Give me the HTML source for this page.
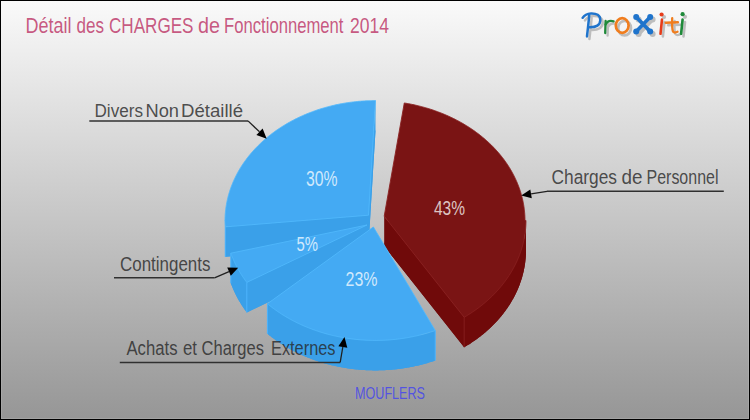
<!DOCTYPE html>
<html><head><meta charset="utf-8"><style>
html,body{margin:0;padding:0;width:750px;height:420px;overflow:hidden;background:#fff}
svg{display:block;font-family:"Liberation Sans",sans-serif}
</style></head><body>
<svg width="750" height="420" viewBox="0 0 750 420">
<defs>
<linearGradient id="bg" x1="0" y1="0" x2="0" y2="1">
<stop offset="0" stop-color="#fafafa"/><stop offset="1" stop-color="#969696"/>
</linearGradient>
<filter id="blur" x="-10%" y="-10%" width="120%" height="120%"><feGaussianBlur stdDeviation="0.6"/></filter>
</defs>
<rect x="0" y="0" width="750" height="420" fill="url(#bg)"/>
<rect x="1.5" y="1.5" width="747" height="417" fill="none" stroke="#fff" stroke-opacity="0.12" stroke-width="1"/>
<rect x="0.5" y="0.5" width="749" height="419" fill="none" stroke="#000" stroke-width="1"/>
<text x="25.50" y="32.80" font-size="21.60" textLength="46.00" lengthAdjust="spacingAndGlyphs" fill="#bb2f62" fill-opacity="0.8">Détail</text>
<text x="76.50" y="32.80" font-size="21.60" textLength="27.50" lengthAdjust="spacingAndGlyphs" fill="#bb2f62" fill-opacity="0.8">des</text>
<text x="109.00" y="32.80" font-size="21.60" textLength="84.50" lengthAdjust="spacingAndGlyphs" fill="#bb2f62" fill-opacity="0.8">CHARGES</text>
<text x="198.00" y="32.80" font-size="21.60" textLength="22.00" lengthAdjust="spacingAndGlyphs" fill="#bb2f62" fill-opacity="0.8">de</text>
<text x="224.00" y="32.80" font-size="21.60" textLength="119.50" lengthAdjust="spacingAndGlyphs" fill="#bb2f62" fill-opacity="0.8">Fonctionnement</text>
<text x="350.00" y="32.80" font-size="21.60" textLength="39.00" lengthAdjust="spacingAndGlyphs" fill="#bb2f62" fill-opacity="0.8">2014</text>
<g id="logo"><g opacity="0.6" transform="translate(2.4,2.6)" filter="url(#blur)"><g stroke="#9a9a9a" fill="#9a9a9a"><path d="M582.6,17.8 C584.2,15.3 586.8,13.6 591,13.4 C596.5,13.2 600.3,15.2 600.3,20 C600.3,25.2 596,27.4 589.6,27.3" fill="none" stroke-width="2.5" stroke-linecap="round"/><path d="M589.2,15.2 C588.7,22 587.7,30 587,36.4" fill="none" stroke-width="2.5" stroke-linecap="round"/></g><g stroke="#9a9a9a" fill="#9a9a9a"><path d="M605.6,21 L605.2,33.1" fill="none" stroke-width="2.3" stroke-linecap="round"/><path d="M605.6,24.5 C607,21.5 609,20 613.6,21.3" fill="none" stroke-width="2.3" stroke-linecap="round"/></g><g stroke="#9a9a9a" fill="#9a9a9a"><ellipse cx="622.2" cy="25.5" rx="6.4" ry="7.3" fill="none" stroke-width="2.7"/></g><g stroke="#9a9a9a" fill="#9a9a9a"><path d="M636.2,17 L650.2,31.5 M650.2,17 L636.2,31.5" fill="none" stroke-width="3.7"/><circle cx="636.2" cy="17" r="3.0" stroke="none"/><circle cx="650.2" cy="17" r="3.0" stroke="none"/><circle cx="636.2" cy="31.5" r="3.0" stroke="none"/><circle cx="650.2" cy="31.5" r="3.0" stroke="none"/></g><g stroke="#9a9a9a" fill="#9a9a9a"><circle cx="661.6" cy="14.5" r="2.1" stroke="none"/><path d="M662,19.5 L660.5,33.8" fill="none" stroke-width="2.6" stroke-linecap="round"/></g><g stroke="#9a9a9a" fill="#9a9a9a"><path d="M672.2,18.2 C672,24 671.8,29 673,31.5 C674,32.8 676,32.5 677.5,31.8" fill="none" stroke-width="2.3" stroke-linecap="round"/><path d="M665.8,22.7 L677.8,22.2" fill="none" stroke-width="2.6" stroke-linecap="round"/></g><g stroke="#9a9a9a" fill="#9a9a9a"><circle cx="682.6" cy="14.2" r="2.1" stroke="none"/><path d="M682.6,19.5 L681.1,33.8" fill="none" stroke-width="2.6" stroke-linecap="round"/></g></g><g><g stroke="#1f74cc" fill="#1f74cc"><path d="M582.6,17.8 C584.2,15.3 586.8,13.6 591,13.4 C596.5,13.2 600.3,15.2 600.3,20 C600.3,25.2 596,27.4 589.6,27.3" fill="none" stroke-width="2.5" stroke-linecap="round"/><path d="M589.2,15.2 C588.7,22 587.7,30 587,36.4" fill="none" stroke-width="2.5" stroke-linecap="round"/></g><g stroke="#1f8a3a" fill="#1f8a3a"><path d="M605.6,21 L605.2,33.1" fill="none" stroke-width="2.3" stroke-linecap="round"/><path d="M605.6,24.5 C607,21.5 609,20 613.6,21.3" fill="none" stroke-width="2.3" stroke-linecap="round"/></g><g stroke="#f07d1e" fill="#f07d1e"><ellipse cx="622.2" cy="25.5" rx="6.4" ry="7.3" fill="none" stroke-width="2.7"/></g><g stroke="#1f74cc" fill="#1f74cc"><path d="M636.2,17 L650.2,31.5 M650.2,17 L636.2,31.5" fill="none" stroke-width="3.7"/><circle cx="636.2" cy="17" r="3.0" stroke="none"/><circle cx="650.2" cy="17" r="3.0" stroke="none"/><circle cx="636.2" cy="31.5" r="3.0" stroke="none"/><circle cx="650.2" cy="31.5" r="3.0" stroke="none"/></g><g stroke="#e63c1a" fill="#e63c1a"><circle cx="661.6" cy="14.5" r="2.1" stroke="none"/><path d="M662,19.5 L660.5,33.8" fill="none" stroke-width="2.6" stroke-linecap="round"/></g><g stroke="#f07d1e" fill="#f07d1e"><path d="M672.2,18.2 C672,24 671.8,29 673,31.5 C674,32.8 676,32.5 677.5,31.8" fill="none" stroke-width="2.3" stroke-linecap="round"/><path d="M665.8,22.7 L677.8,22.2" fill="none" stroke-width="2.6" stroke-linecap="round"/></g><g stroke="#1f8a3a" fill="#1f8a3a"><circle cx="682.6" cy="14.2" r="2.1" stroke="none"/><path d="M682.6,19.5 L681.1,33.8" fill="none" stroke-width="2.6" stroke-linecap="round"/></g></g></g>
<g id="pie">
<polygon points="368.50,245.20 375.50,130.60 374.50,130.60 373.50,130.61 372.50,130.62 371.50,130.64 370.50,130.67 369.50,130.70 368.50,130.73 367.50,130.77 366.51,130.82 365.51,130.87 364.51,130.92 363.51,130.98 362.52,131.05 361.52,131.12 360.52,131.20 359.53,131.28 358.54,131.37 357.54,131.46 356.55,131.56 355.56,131.66 354.57,131.77 353.58,131.88 352.59,132.00 351.60,132.13 350.61,132.26 349.63,132.39 348.64,132.53 347.66,132.68 346.68,132.83 345.70,132.98 344.72,133.15 343.74,133.31 342.76,133.48 341.79,133.66 340.81,133.84 339.84,134.03 338.87,134.22 337.90,134.42 336.94,134.62 335.97,134.83 335.01,135.04 334.04,135.26 333.08,135.48 332.12,135.71 331.17,135.94 330.21,136.18 329.26,136.42 328.31,136.67 327.36,136.93 326.41,137.18 325.47,137.45 324.53,137.72 323.59,137.99 322.65,138.27 321.72,138.55 320.78,138.84 319.85,139.13 318.93,139.43 318.00,139.73 317.08,140.04 316.16,140.36 315.24,140.67 314.32,141.00 313.41,141.32 312.50,141.66 311.60,141.99 310.69,142.34 309.79,142.68 308.89,143.03 308.00,143.39 307.10,143.75 306.22,144.12 305.33,144.49 304.45,144.86 303.57,145.24 302.69,145.63 301.82,146.02 300.95,146.41 300.08,146.81 299.21,147.21 298.35,147.62 297.50,148.03 296.64,148.45 295.79,148.87 294.95,149.30 294.10,149.73 293.27,150.16 292.43,150.60 291.60,151.05 290.77,151.49 289.94,151.95 289.12,152.40 288.31,152.87 287.49,153.33 286.68,153.80 285.88,154.28 285.08,154.75 284.28,155.24 283.49,155.72 282.70,156.21 281.91,156.71 281.13,157.21 280.35,157.71 279.58,158.22 278.81,158.73 278.05,159.25 277.29,159.77 276.53,160.29 275.78,160.82 275.04,161.35 274.29,161.89 273.56,162.43 272.82,162.97 272.09,163.52 271.37,164.07 270.65,164.63 269.93,165.19 269.22,165.75 268.52,166.32 267.82,166.89 267.12,167.46 266.43,168.04 265.74,168.62 265.06,169.21 264.38,169.80 263.71,170.39 263.04,170.98 262.38,171.58 261.73,172.19 261.07,172.79 260.43,173.40 259.78,174.02 259.15,174.63 258.52,175.25 257.89,175.88 257.27,176.50 256.65,177.13 256.04,177.77 255.44,178.40 254.84,179.04 254.24,179.69 253.65,180.33 253.07,180.98 252.49,181.63 251.91,182.29 251.35,182.95 250.78,183.61 250.23,184.27 249.68,184.94 249.13,185.61 248.59,186.28 248.05,186.96 247.53,187.64 247.00,188.32 246.48,189.01 245.97,189.69 245.47,190.38 244.97,191.08 244.47,191.77 243.98,192.47 243.50,193.17 243.02,193.87 242.55,194.58 242.08,195.28 241.62,196.00 241.17,196.71 240.72,197.42 240.28,198.14 239.84,198.86 239.41,199.58 238.99,200.31 238.57,201.03 238.16,201.76 237.75,202.49 237.35,203.23 236.96,203.96 236.57,204.70 236.19,205.44 235.82,206.18 235.45,206.93 235.08,207.67 234.73,208.42 234.38,209.17 234.03,209.92 233.69,210.67 233.36,211.43 233.04,212.18 232.72,212.94 232.40,213.70 232.10,214.46 231.80,215.22 231.50,215.99 231.22,216.76 230.93,217.52 230.66,218.29 230.39,219.06 230.13,219.84 229.87,220.61 229.62,221.38 229.38,222.16 229.15,222.94 228.92,223.72 228.69,224.50 228.48,225.28 228.26,226.06 228.06,226.84 227.86,227.63 227.67,228.41 227.49,229.20 227.31,229.98 227.14,230.77 226.97,231.56 226.82,232.35 226.66,233.14 226.52,233.93 226.38,234.73 226.25,235.52 226.12,236.31 226.01,237.11 225.89,237.90 225.79,238.70 225.69,239.49 225.60,240.29 225.51,241.09 225.43,241.88 225.36,242.68 225.29,243.48 225.23,244.28 225.18,245.08 225.14,245.88 225.10,246.68 225.06,247.48 225.04,248.28 225.02,249.08 225.01,249.88 225.00,250.68 225.00,250.48 225.01,251.28 225.02,252.08 225.04,252.88 225.07,253.68 225.10,254.48 225.14,255.27 225.19,256.07 225.25,256.87" fill="rgb(58,160,233)"/>
<polygon points="367.00,255.00 230.83,283.19 231.11,283.96 231.39,284.72 231.69,285.49 231.98,286.25 232.29,287.01 232.60,287.77 232.92,288.53 233.24,289.29 233.57,290.04 233.90,290.80 234.25,291.55 234.59,292.30 234.95,293.05 235.31,293.79 235.68,294.54 236.05,295.28 236.43,296.02 236.81,296.76 237.20,297.50 237.60,298.23 238.01,298.96 238.42,299.69 238.83,300.42 239.25,301.14 239.68,301.87 240.11,302.59 240.55,303.31 241.00,304.02 241.45,304.74 241.91,305.45 242.37,306.16 242.84,306.86 243.32,307.57 243.80,308.27 244.29,308.97 244.78,309.66 245.28,310.36 245.78,311.05 246.29,311.74 246.81,312.42" fill="rgb(58,160,233)"/>
<polygon points="373.40,257.00 267.42,333.79 268.12,334.36 268.82,334.93 269.53,335.49 270.24,336.06 270.96,336.61 271.68,337.17 272.41,337.72 273.14,338.26 273.87,338.81 274.61,339.34 275.36,339.88 276.11,340.41 276.86,340.93 277.62,341.46 278.38,341.98 279.15,342.49 279.92,343.00 280.69,343.51 281.47,344.01 282.25,344.51 283.04,345.00 283.83,345.49 284.63,345.97 285.42,346.45 286.23,346.93 287.03,347.40 287.85,347.87 288.66,348.34 289.48,348.79 290.30,349.25 291.13,349.70 291.96,350.15 292.79,350.59 293.63,351.03 294.47,351.46 295.31,351.89 296.16,352.31 297.01,352.73 297.87,353.15 298.73,353.56 299.59,353.96 300.45,354.36 301.32,354.76 302.19,355.15 303.07,355.54 303.95,355.92 304.83,356.30 305.71,356.67 306.60,357.04 307.49,357.41 308.38,357.76 309.28,358.12 310.18,358.47 311.08,358.81 311.99,359.15 312.90,359.49 313.81,359.82 314.72,360.14 315.64,360.47 316.56,360.78 317.48,361.09 318.40,361.40 319.33,361.70 320.26,362.00 321.19,362.29 322.12,362.57 323.06,362.85 324.00,363.13 324.94,363.40 325.88,363.67 326.82,363.93 327.77,364.19 328.72,364.44 329.67,364.68 330.63,364.92 331.58,365.16 332.54,365.39 333.50,365.62 334.46,365.84 335.42,366.05 336.39,366.26 337.35,366.47 338.32,366.67 339.29,366.86 340.26,367.05 341.24,367.24 342.21,367.42 343.19,367.59 344.16,367.76 345.14,367.93 346.12,368.08 347.10,368.24 348.09,368.39 349.07,368.53 350.06,368.67 351.04,368.80 352.03,368.93 353.02,369.05 354.01,369.17 355.00,369.28 355.99,369.38 356.98,369.48 357.97,369.58 358.97,369.67 359.96,369.76 360.96,369.84 361.95,369.91 362.95,369.98 363.94,370.04 364.94,370.10 365.94,370.16 366.94,370.21 367.94,370.25 368.94,370.29 369.93,370.32 370.93,370.34 371.93,370.37 372.93,370.38 373.93,370.39 374.93,370.40 375.93,370.40 376.93,370.39 377.93,370.38 378.93,370.37 379.93,370.35 380.93,370.32 381.93,370.29 382.93,370.25 383.93,370.21 384.93,370.16 385.93,370.11 386.92,370.05 387.92,369.99 388.92,369.92 389.91,369.85 390.91,369.77 391.90,369.68 392.89,369.59 393.89,369.50 394.88,369.40 395.87,369.29 396.86,369.18 397.85,369.06 398.84,368.94 399.83,368.82 400.81,368.68 401.80,368.55 402.78,368.41 403.76,368.26 404.75,368.10 405.73,367.95 406.71,367.78 407.68,367.61 408.66,367.44 409.63,367.26 410.61,367.08 411.58,366.89 412.55,366.69 413.52,366.50 414.48,366.29 415.45,366.08 416.41,365.87 417.37,365.65 418.33,365.42 419.29,365.19 420.25,364.96 421.20,364.71 422.15,364.47 423.10,364.22 424.05,363.96 424.99,363.70 425.94,363.44 426.88,363.17 427.82,362.89 428.75,362.61 429.69,362.32 430.62,362.03 431.55,361.74 432.48,361.44 433.40,361.13 434.32,360.82 435.24,360.51" fill="rgb(58,160,233)"/>
<polygon points="384.20,246.20 464.17,347.28 464.98,346.81 465.78,346.33 466.58,345.85 467.37,345.36 468.16,344.87 468.95,344.38 469.73,343.88 470.51,343.38 471.28,342.87 472.05,342.36 472.82,341.84 473.58,341.32 474.33,340.80 475.09,340.27 475.83,339.74 476.58,339.21 477.32,338.67 478.05,338.12 478.78,337.58 479.50,337.02 480.22,336.47 480.94,335.91 481.65,335.35 482.36,334.78 483.06,334.21 483.76,333.64 484.45,333.06 485.14,332.48 485.82,331.90 486.50,331.31 487.17,330.72 487.84,330.12 488.50,329.52 489.16,328.92 489.81,328.31 490.46,327.70 491.10,327.09 491.74,326.48 492.37,325.86 493.00,325.23 493.62,324.61 494.24,323.98 494.85,323.34 495.46,322.71 496.06,322.07 496.66,321.43 497.25,320.78 497.83,320.13 498.41,319.48 498.99,318.83 499.55,318.17 500.12,317.51 500.68,316.84 501.23,316.18 501.78,315.51 502.32,314.83 502.85,314.16 503.38,313.48 503.91,312.80 504.43,312.11 504.94,311.43 505.45,310.74 505.95,310.05 506.44,309.35 506.93,308.65 507.42,307.95 507.90,307.25 508.37,306.55 508.84,305.84 509.30,305.13 509.75,304.42 510.20,303.70 510.64,302.99 511.08,302.27 511.51,301.54 511.94,300.82 512.36,300.09 512.77,299.36 513.18,298.63 513.58,297.90 513.97,297.17 514.36,296.43 514.74,295.69 515.12,294.95 515.49,294.21 515.85,293.46 516.21,292.71 516.56,291.96 516.91,291.21 517.25,290.46 517.58,289.71 517.91,288.95 518.23,288.19 518.54,287.43 518.85,286.67 519.15,285.91 519.45,285.14 519.73,284.38 520.02,283.61 520.29,282.84 520.56,282.07 520.83,281.30 521.08,280.53 521.33,279.75 521.58,278.98 521.81,278.20 522.04,277.42 522.27,276.64 522.49,275.86 522.70,275.08 522.90,274.30 523.10,273.51 523.29,272.73 523.48,271.94 523.66,271.15 523.83,270.37 524.00,269.58 524.16,268.79 524.31,268.00 524.46,267.21 524.60,266.41 524.73,265.62 524.85,264.83 524.97,264.03 525.09,263.24 525.19,262.44 525.29,261.65 525.39,260.85 525.47,260.05 525.55,259.26 525.63,258.46 525.70,257.66 525.76,256.86 525.81,256.06 525.86,255.26 525.90,254.46 525.93,253.66 525.96,252.86 525.98,252.06 525.99,251.26 526.00,250.46 525.00,250.66 524.99,249.86 524.98,249.06 524.96,248.26 524.94,247.46 524.90,246.67 524.86,245.87 524.82,245.07 524.76,244.27 524.71,243.47 524.64,242.67 524.57,241.87 524.49,241.08 524.40,240.28 524.31,239.48 524.21,238.69 524.11,237.89 523.99,237.10 523.87,236.30 523.75,235.51 523.62,234.71 523.48,233.92 523.33,233.13 523.18,232.34 523.02,231.55 522.86,230.76 522.69,229.97 522.51,229.19 522.32,228.40 522.13,227.61 521.94,226.83 521.73,226.05 521.52,225.26 521.30,224.48 521.08,223.70 520.85,222.93 520.61,222.15 520.37,221.37 520.12,220.60 519.87,219.82 519.60,219.05 519.34,218.28 519.06,217.51 518.78,216.74 518.49,215.98 518.20,215.21 517.90,214.45 517.59,213.69 517.28,212.93 516.96,212.17 516.63,211.41 516.30,210.66 515.96,209.91 515.62,209.16 515.27,208.41 514.91,207.66 514.55,206.91 514.18,206.17 513.80,205.43 513.42,204.69 513.03,203.95 512.64,203.22 512.24,202.48 511.83,201.75 511.42,201.02 511.00,200.30 510.58,199.57 510.15,198.85 509.71,198.13 509.27,197.41 508.82,196.70 508.37,195.98 507.91,195.27 507.44,194.57 506.97,193.86 506.49,193.16 506.01,192.46 505.52,191.76 505.03,191.06 504.53,190.37 504.02,189.68 503.51,189.00 502.99,188.31 502.47,187.63 501.94,186.95 501.40,186.27 500.86,185.60 500.32,184.93 499.76,184.26 499.21,183.60 498.65,182.94 498.08,182.28 497.50,181.62 496.92,180.97 496.34,180.32 495.75,179.68 495.16,179.03 494.56,178.39 493.95,177.76 493.34,177.12 492.72,176.49 492.10,175.87 491.47,175.24 490.84,174.62 490.21,174.01 489.56,173.39 488.92,172.78 488.26,172.18 487.61,171.57 486.95,170.97 486.28,170.38 485.61,169.79 484.93,169.20 484.25,168.61 483.56,168.03 482.87,167.45 482.17,166.88 481.47,166.31 480.77,165.74 480.06,165.18 479.34,164.62 478.62,164.06 477.90,163.51 477.17,162.96 476.43,162.42 475.70,161.88 474.95,161.35 474.21,160.81 473.46,160.29 472.70,159.76 471.94,159.24 471.18,158.73 470.41,158.21 469.63,157.71 468.86,157.20 468.08,156.70 467.29,156.21 466.50,155.72 465.71,155.23 464.91,154.75 464.11,154.27 463.30,153.79 462.49,153.32 461.68,152.86 460.86,152.40 460.04,151.94 459.22,151.49 458.39,151.04 457.56,150.60 456.72,150.16 455.88,149.72 455.04,149.29 454.19,148.87 453.34,148.44 452.49,148.03 451.63,147.61 450.77,147.21 449.91,146.80 449.04,146.41 448.17,146.01 447.30,145.62 446.42,145.24 445.54,144.86 444.66,144.48 443.77,144.11 442.88,143.75 441.99,143.38 441.09,143.03 440.20,142.68 439.30,142.33 438.39,141.99 437.48,141.65 436.57,141.32 435.66,140.99 434.75,140.67 433.83,140.35 432.91,140.04 431.99,139.73 431.06,139.43 430.13,139.13 429.20,138.83 428.27,138.55 427.33,138.26 426.40,137.98 425.46,137.71 424.52,137.44 423.57,137.18 422.62,136.92 421.68,136.67 420.73,136.42 419.77,136.18 418.82,135.94 417.86,135.71 416.90,135.48 415.94,135.25 414.98,135.04 414.02,134.82 413.05,134.62 412.08,134.41 411.11,134.22 410.14,134.03 409.17,133.84 408.20,133.66 407.22,133.48 406.24,133.31 405.27,133.14 404.29,132.98" fill="rgb(112,10,10)"/>
<polygon points="384.20,246.20 384.20,216.20 464.17,317.28 464.17,347.28" fill="rgb(112,10,10)"/>
<polygon points="373.40,257.00 373.40,227.00 267.42,303.79 267.42,333.79" fill="rgb(58,160,233)"/>
<polygon points="367.00,255.00 367.00,225.00 230.83,253.19 230.83,283.19" fill="rgb(58,160,233)"/>
<polygon points="368.50,245.20 368.50,215.20 375.50,100.60 375.50,130.60" fill="rgb(58,160,233)"/>
<polygon points="368.50,245.20 368.50,215.20 225.25,226.87 225.25,256.87" fill="rgb(58,160,233)"/>
<polygon points="367.00,255.00 367.00,225.00 246.81,282.42 246.81,312.42" fill="rgb(58,160,233)"/>
<polygon points="225.00,250.48 225.01,251.28 225.02,252.08 225.04,252.88 225.07,253.68 225.10,254.48 225.14,255.27 225.19,256.07 225.25,256.87 225.25,226.87 225.19,226.07 225.14,225.27 225.10,224.48 225.07,223.68 225.04,222.88 225.02,222.08 225.01,221.28 225.00,220.48" fill="rgb(58,160,233)"/>
<polygon points="230.83,283.19 231.11,283.96 231.39,284.72 231.69,285.49 231.98,286.25 232.29,287.01 232.60,287.77 232.92,288.53 233.24,289.29 233.57,290.04 233.90,290.80 234.25,291.55 234.59,292.30 234.95,293.05 235.31,293.79 235.68,294.54 236.05,295.28 236.43,296.02 236.81,296.76 237.20,297.50 237.60,298.23 238.01,298.96 238.42,299.69 238.83,300.42 239.25,301.14 239.68,301.87 240.11,302.59 240.55,303.31 241.00,304.02 241.45,304.74 241.91,305.45 242.37,306.16 242.84,306.86 243.32,307.57 243.80,308.27 244.29,308.97 244.78,309.66 245.28,310.36 245.78,311.05 246.29,311.74 246.81,312.42 246.81,282.42 246.29,281.74 245.78,281.05 245.28,280.36 244.78,279.66 244.29,278.97 243.80,278.27 243.32,277.57 242.84,276.86 242.37,276.16 241.91,275.45 241.45,274.74 241.00,274.02 240.55,273.31 240.11,272.59 239.68,271.87 239.25,271.14 238.83,270.42 238.42,269.69 238.01,268.96 237.60,268.23 237.20,267.50 236.81,266.76 236.43,266.02 236.05,265.28 235.68,264.54 235.31,263.79 234.95,263.05 234.59,262.30 234.25,261.55 233.90,260.80 233.57,260.04 233.24,259.29 232.92,258.53 232.60,257.77 232.29,257.01 231.98,256.25 231.69,255.49 231.39,254.72 231.11,253.96 230.83,253.19" fill="rgb(58,160,233)"/>
<polygon points="267.42,333.79 268.12,334.36 268.82,334.93 269.53,335.49 270.24,336.06 270.96,336.61 271.68,337.17 272.41,337.72 273.14,338.26 273.87,338.81 274.61,339.34 275.36,339.88 276.11,340.41 276.86,340.93 277.62,341.46 278.38,341.98 279.15,342.49 279.92,343.00 280.69,343.51 281.47,344.01 282.25,344.51 283.04,345.00 283.83,345.49 284.63,345.97 285.42,346.45 286.23,346.93 287.03,347.40 287.85,347.87 288.66,348.34 289.48,348.79 290.30,349.25 291.13,349.70 291.96,350.15 292.79,350.59 293.63,351.03 294.47,351.46 295.31,351.89 296.16,352.31 297.01,352.73 297.87,353.15 298.73,353.56 299.59,353.96 300.45,354.36 301.32,354.76 302.19,355.15 303.07,355.54 303.95,355.92 304.83,356.30 305.71,356.67 306.60,357.04 307.49,357.41 308.38,357.76 309.28,358.12 310.18,358.47 311.08,358.81 311.99,359.15 312.90,359.49 313.81,359.82 314.72,360.14 315.64,360.47 316.56,360.78 317.48,361.09 318.40,361.40 319.33,361.70 320.26,362.00 321.19,362.29 322.12,362.57 323.06,362.85 324.00,363.13 324.94,363.40 325.88,363.67 326.82,363.93 327.77,364.19 328.72,364.44 329.67,364.68 330.63,364.92 331.58,365.16 332.54,365.39 333.50,365.62 334.46,365.84 335.42,366.05 336.39,366.26 337.35,366.47 338.32,366.67 339.29,366.86 340.26,367.05 341.24,367.24 342.21,367.42 343.19,367.59 344.16,367.76 345.14,367.93 346.12,368.08 347.10,368.24 348.09,368.39 349.07,368.53 350.06,368.67 351.04,368.80 352.03,368.93 353.02,369.05 354.01,369.17 355.00,369.28 355.99,369.38 356.98,369.48 357.97,369.58 358.97,369.67 359.96,369.76 360.96,369.84 361.95,369.91 362.95,369.98 363.94,370.04 364.94,370.10 365.94,370.16 366.94,370.21 367.94,370.25 368.94,370.29 369.93,370.32 370.93,370.34 371.93,370.37 372.93,370.38 373.93,370.39 374.93,370.40 375.93,370.40 376.93,370.39 377.93,370.38 378.93,370.37 379.93,370.35 380.93,370.32 381.93,370.29 382.93,370.25 383.93,370.21 384.93,370.16 385.93,370.11 386.92,370.05 387.92,369.99 388.92,369.92 389.91,369.85 390.91,369.77 391.90,369.68 392.89,369.59 393.89,369.50 394.88,369.40 395.87,369.29 396.86,369.18 397.85,369.06 398.84,368.94 399.83,368.82 400.81,368.68 401.80,368.55 402.78,368.41 403.76,368.26 404.75,368.10 405.73,367.95 406.71,367.78 407.68,367.61 408.66,367.44 409.63,367.26 410.61,367.08 411.58,366.89 412.55,366.69 413.52,366.50 414.48,366.29 415.45,366.08 416.41,365.87 417.37,365.65 418.33,365.42 419.29,365.19 420.25,364.96 421.20,364.71 422.15,364.47 423.10,364.22 424.05,363.96 424.99,363.70 425.94,363.44 426.88,363.17 427.82,362.89 428.75,362.61 429.69,362.32 430.62,362.03 431.55,361.74 432.48,361.44 433.40,361.13 434.32,360.82 435.24,360.51 435.24,330.51 434.32,330.82 433.40,331.13 432.48,331.44 431.55,331.74 430.62,332.03 429.69,332.32 428.75,332.61 427.82,332.89 426.88,333.17 425.94,333.44 424.99,333.70 424.05,333.96 423.10,334.22 422.15,334.47 421.20,334.71 420.25,334.96 419.29,335.19 418.33,335.42 417.37,335.65 416.41,335.87 415.45,336.08 414.48,336.29 413.52,336.50 412.55,336.69 411.58,336.89 410.61,337.08 409.63,337.26 408.66,337.44 407.68,337.61 406.71,337.78 405.73,337.95 404.75,338.10 403.76,338.26 402.78,338.41 401.80,338.55 400.81,338.68 399.83,338.82 398.84,338.94 397.85,339.06 396.86,339.18 395.87,339.29 394.88,339.40 393.89,339.50 392.89,339.59 391.90,339.68 390.91,339.77 389.91,339.85 388.92,339.92 387.92,339.99 386.92,340.05 385.93,340.11 384.93,340.16 383.93,340.21 382.93,340.25 381.93,340.29 380.93,340.32 379.93,340.35 378.93,340.37 377.93,340.38 376.93,340.39 375.93,340.40 374.93,340.40 373.93,340.39 372.93,340.38 371.93,340.37 370.93,340.34 369.93,340.32 368.94,340.29 367.94,340.25 366.94,340.21 365.94,340.16 364.94,340.10 363.94,340.04 362.95,339.98 361.95,339.91 360.96,339.84 359.96,339.76 358.97,339.67 357.97,339.58 356.98,339.48 355.99,339.38 355.00,339.28 354.01,339.17 353.02,339.05 352.03,338.93 351.04,338.80 350.06,338.67 349.07,338.53 348.09,338.39 347.10,338.24 346.12,338.08 345.14,337.93 344.16,337.76 343.19,337.59 342.21,337.42 341.24,337.24 340.26,337.05 339.29,336.86 338.32,336.67 337.35,336.47 336.39,336.26 335.42,336.05 334.46,335.84 333.50,335.62 332.54,335.39 331.58,335.16 330.63,334.92 329.67,334.68 328.72,334.44 327.77,334.19 326.82,333.93 325.88,333.67 324.94,333.40 324.00,333.13 323.06,332.85 322.12,332.57 321.19,332.29 320.26,332.00 319.33,331.70 318.40,331.40 317.48,331.09 316.56,330.78 315.64,330.47 314.72,330.14 313.81,329.82 312.90,329.49 311.99,329.15 311.08,328.81 310.18,328.47 309.28,328.12 308.38,327.76 307.49,327.41 306.60,327.04 305.71,326.67 304.83,326.30 303.95,325.92 303.07,325.54 302.19,325.15 301.32,324.76 300.45,324.36 299.59,323.96 298.73,323.56 297.87,323.15 297.01,322.73 296.16,322.31 295.31,321.89 294.47,321.46 293.63,321.03 292.79,320.59 291.96,320.15 291.13,319.70 290.30,319.25 289.48,318.79 288.66,318.34 287.85,317.87 287.03,317.40 286.23,316.93 285.42,316.45 284.63,315.97 283.83,315.49 283.04,315.00 282.25,314.51 281.47,314.01 280.69,313.51 279.92,313.00 279.15,312.49 278.38,311.98 277.62,311.46 276.86,310.93 276.11,310.41 275.36,309.88 274.61,309.34 273.87,308.81 273.14,308.26 272.41,307.72 271.68,307.17 270.96,306.61 270.24,306.06 269.53,305.49 268.82,304.93 268.12,304.36 267.42,303.79" fill="rgb(58,160,233)"/>
<polygon points="464.17,347.28 464.98,346.81 465.78,346.33 466.58,345.85 467.37,345.36 468.16,344.87 468.95,344.38 469.73,343.88 470.51,343.38 471.28,342.87 472.05,342.36 472.82,341.84 473.58,341.32 474.33,340.80 475.09,340.27 475.83,339.74 476.58,339.21 477.32,338.67 478.05,338.12 478.78,337.58 479.50,337.02 480.22,336.47 480.94,335.91 481.65,335.35 482.36,334.78 483.06,334.21 483.76,333.64 484.45,333.06 485.14,332.48 485.82,331.90 486.50,331.31 487.17,330.72 487.84,330.12 488.50,329.52 489.16,328.92 489.81,328.31 490.46,327.70 491.10,327.09 491.74,326.48 492.37,325.86 493.00,325.23 493.62,324.61 494.24,323.98 494.85,323.34 495.46,322.71 496.06,322.07 496.66,321.43 497.25,320.78 497.83,320.13 498.41,319.48 498.99,318.83 499.55,318.17 500.12,317.51 500.68,316.84 501.23,316.18 501.78,315.51 502.32,314.83 502.85,314.16 503.38,313.48 503.91,312.80 504.43,312.11 504.94,311.43 505.45,310.74 505.95,310.05 506.44,309.35 506.93,308.65 507.42,307.95 507.90,307.25 508.37,306.55 508.84,305.84 509.30,305.13 509.75,304.42 510.20,303.70 510.64,302.99 511.08,302.27 511.51,301.54 511.94,300.82 512.36,300.09 512.77,299.36 513.18,298.63 513.58,297.90 513.97,297.17 514.36,296.43 514.74,295.69 515.12,294.95 515.49,294.21 515.85,293.46 516.21,292.71 516.56,291.96 516.91,291.21 517.25,290.46 517.58,289.71 517.91,288.95 518.23,288.19 518.54,287.43 518.85,286.67 519.15,285.91 519.45,285.14 519.73,284.38 520.02,283.61 520.29,282.84 520.56,282.07 520.83,281.30 521.08,280.53 521.33,279.75 521.58,278.98 521.81,278.20 522.04,277.42 522.27,276.64 522.49,275.86 522.70,275.08 522.90,274.30 523.10,273.51 523.29,272.73 523.48,271.94 523.66,271.15 523.83,270.37 524.00,269.58 524.16,268.79 524.31,268.00 524.46,267.21 524.60,266.41 524.73,265.62 524.85,264.83 524.97,264.03 525.09,263.24 525.19,262.44 525.29,261.65 525.39,260.85 525.47,260.05 525.55,259.26 525.63,258.46 525.70,257.66 525.76,256.86 525.81,256.06 525.86,255.26 525.90,254.46 525.93,253.66 525.96,252.86 525.98,252.06 525.99,251.26 526.00,250.46 526.00,220.46 525.99,221.26 525.98,222.06 525.96,222.86 525.93,223.66 525.90,224.46 525.86,225.26 525.81,226.06 525.76,226.86 525.70,227.66 525.63,228.46 525.55,229.26 525.47,230.05 525.39,230.85 525.29,231.65 525.19,232.44 525.09,233.24 524.97,234.03 524.85,234.83 524.73,235.62 524.60,236.41 524.46,237.21 524.31,238.00 524.16,238.79 524.00,239.58 523.83,240.37 523.66,241.15 523.48,241.94 523.29,242.73 523.10,243.51 522.90,244.30 522.70,245.08 522.49,245.86 522.27,246.64 522.04,247.42 521.81,248.20 521.58,248.98 521.33,249.75 521.08,250.53 520.83,251.30 520.56,252.07 520.29,252.84 520.02,253.61 519.73,254.38 519.45,255.14 519.15,255.91 518.85,256.67 518.54,257.43 518.23,258.19 517.91,258.95 517.58,259.71 517.25,260.46 516.91,261.21 516.56,261.96 516.21,262.71 515.85,263.46 515.49,264.21 515.12,264.95 514.74,265.69 514.36,266.43 513.97,267.17 513.58,267.90 513.18,268.63 512.77,269.36 512.36,270.09 511.94,270.82 511.51,271.54 511.08,272.27 510.64,272.99 510.20,273.70 509.75,274.42 509.30,275.13 508.84,275.84 508.37,276.55 507.90,277.25 507.42,277.95 506.93,278.65 506.44,279.35 505.95,280.05 505.45,280.74 504.94,281.43 504.43,282.11 503.91,282.80 503.38,283.48 502.85,284.16 502.32,284.83 501.78,285.51 501.23,286.18 500.68,286.84 500.12,287.51 499.55,288.17 498.99,288.83 498.41,289.48 497.83,290.13 497.25,290.78 496.66,291.43 496.06,292.07 495.46,292.71 494.85,293.34 494.24,293.98 493.62,294.61 493.00,295.23 492.37,295.86 491.74,296.48 491.10,297.09 490.46,297.70 489.81,298.31 489.16,298.92 488.50,299.52 487.84,300.12 487.17,300.72 486.50,301.31 485.82,301.90 485.14,302.48 484.45,303.06 483.76,303.64 483.06,304.21 482.36,304.78 481.65,305.35 480.94,305.91 480.22,306.47 479.50,307.02 478.78,307.58 478.05,308.12 477.32,308.67 476.58,309.21 475.83,309.74 475.09,310.27 474.33,310.80 473.58,311.32 472.82,311.84 472.05,312.36 471.28,312.87 470.51,313.38 469.73,313.88 468.95,314.38 468.16,314.87 467.37,315.36 466.58,315.85 465.78,316.33 464.98,316.81 464.17,317.28" fill="rgb(112,10,10)"/>
<line x1="225.25" y1="256.87" x2="225.25" y2="226.87" stroke="rgb(78,180,253)" stroke-width="1.0"/>
<line x1="230.83" y1="283.19" x2="230.83" y2="253.19" stroke="rgb(78,180,253)" stroke-width="1.0"/>
<line x1="246.81" y1="312.42" x2="246.81" y2="282.42" stroke="rgb(78,180,253)" stroke-width="1.0"/>
<line x1="267.42" y1="333.79" x2="267.42" y2="303.79" stroke="rgb(78,180,253)" stroke-width="1.0"/>
<line x1="435.24" y1="360.51" x2="435.24" y2="330.51" stroke="rgb(78,180,253)" stroke-width="1.0"/>
<line x1="464.17" y1="347.28" x2="464.17" y2="317.28" stroke="rgb(132,30,30)" stroke-width="1.0"/>
<polygon points="368.50,215.20 375.50,100.60 374.50,100.60 373.50,100.61 372.50,100.62 371.50,100.64 370.50,100.67 369.50,100.70 368.50,100.73 367.50,100.77 366.51,100.82 365.51,100.87 364.51,100.92 363.51,100.98 362.52,101.05 361.52,101.12 360.52,101.20 359.53,101.28 358.54,101.37 357.54,101.46 356.55,101.56 355.56,101.66 354.57,101.77 353.58,101.88 352.59,102.00 351.60,102.13 350.61,102.26 349.63,102.39 348.64,102.53 347.66,102.68 346.68,102.83 345.70,102.98 344.72,103.15 343.74,103.31 342.76,103.48 341.79,103.66 340.81,103.84 339.84,104.03 338.87,104.22 337.90,104.42 336.94,104.62 335.97,104.83 335.01,105.04 334.04,105.26 333.08,105.48 332.12,105.71 331.17,105.94 330.21,106.18 329.26,106.42 328.31,106.67 327.36,106.93 326.41,107.18 325.47,107.45 324.53,107.72 323.59,107.99 322.65,108.27 321.72,108.55 320.78,108.84 319.85,109.13 318.93,109.43 318.00,109.73 317.08,110.04 316.16,110.36 315.24,110.67 314.32,111.00 313.41,111.32 312.50,111.66 311.60,111.99 310.69,112.34 309.79,112.68 308.89,113.03 308.00,113.39 307.10,113.75 306.22,114.12 305.33,114.49 304.45,114.86 303.57,115.24 302.69,115.63 301.82,116.02 300.95,116.41 300.08,116.81 299.21,117.21 298.35,117.62 297.50,118.03 296.64,118.45 295.79,118.87 294.95,119.30 294.10,119.73 293.27,120.16 292.43,120.60 291.60,121.05 290.77,121.49 289.94,121.95 289.12,122.40 288.31,122.87 287.49,123.33 286.68,123.80 285.88,124.28 285.08,124.75 284.28,125.24 283.49,125.72 282.70,126.21 281.91,126.71 281.13,127.21 280.35,127.71 279.58,128.22 278.81,128.73 278.05,129.25 277.29,129.77 276.53,130.29 275.78,130.82 275.04,131.35 274.29,131.89 273.56,132.43 272.82,132.97 272.09,133.52 271.37,134.07 270.65,134.63 269.93,135.19 269.22,135.75 268.52,136.32 267.82,136.89 267.12,137.46 266.43,138.04 265.74,138.62 265.06,139.21 264.38,139.80 263.71,140.39 263.04,140.98 262.38,141.58 261.73,142.19 261.07,142.79 260.43,143.40 259.78,144.02 259.15,144.63 258.52,145.25 257.89,145.88 257.27,146.50 256.65,147.13 256.04,147.77 255.44,148.40 254.84,149.04 254.24,149.69 253.65,150.33 253.07,150.98 252.49,151.63 251.91,152.29 251.35,152.95 250.78,153.61 250.23,154.27 249.68,154.94 249.13,155.61 248.59,156.28 248.05,156.96 247.53,157.64 247.00,158.32 246.48,159.01 245.97,159.69 245.47,160.38 244.97,161.08 244.47,161.77 243.98,162.47 243.50,163.17 243.02,163.87 242.55,164.58 242.08,165.28 241.62,166.00 241.17,166.71 240.72,167.42 240.28,168.14 239.84,168.86 239.41,169.58 238.99,170.31 238.57,171.03 238.16,171.76 237.75,172.49 237.35,173.23 236.96,173.96 236.57,174.70 236.19,175.44 235.82,176.18 235.45,176.93 235.08,177.67 234.73,178.42 234.38,179.17 234.03,179.92 233.69,180.67 233.36,181.43 233.04,182.18 232.72,182.94 232.40,183.70 232.10,184.46 231.80,185.22 231.50,185.99 231.22,186.76 230.93,187.52 230.66,188.29 230.39,189.06 230.13,189.84 229.87,190.61 229.62,191.38 229.38,192.16 229.15,192.94 228.92,193.72 228.69,194.50 228.48,195.28 228.26,196.06 228.06,196.84 227.86,197.63 227.67,198.41 227.49,199.20 227.31,199.98 227.14,200.77 226.97,201.56 226.82,202.35 226.66,203.14 226.52,203.93 226.38,204.73 226.25,205.52 226.12,206.31 226.01,207.11 225.89,207.90 225.79,208.70 225.69,209.49 225.60,210.29 225.51,211.09 225.43,211.88 225.36,212.68 225.29,213.48 225.23,214.28 225.18,215.08 225.14,215.88 225.10,216.68 225.06,217.48 225.04,218.28 225.02,219.08 225.01,219.88 225.00,220.68 225.00,220.48 225.01,221.28 225.02,222.08 225.04,222.88 225.07,223.68 225.10,224.48 225.14,225.27 225.19,226.07 225.25,226.87" fill="rgb(68,170,243)" stroke="rgb(80,184,252)" stroke-width="0.9" stroke-linejoin="round"/>
<polygon points="367.00,225.00 230.83,253.19 231.11,253.96 231.39,254.72 231.69,255.49 231.98,256.25 232.29,257.01 232.60,257.77 232.92,258.53 233.24,259.29 233.57,260.04 233.90,260.80 234.25,261.55 234.59,262.30 234.95,263.05 235.31,263.79 235.68,264.54 236.05,265.28 236.43,266.02 236.81,266.76 237.20,267.50 237.60,268.23 238.01,268.96 238.42,269.69 238.83,270.42 239.25,271.14 239.68,271.87 240.11,272.59 240.55,273.31 241.00,274.02 241.45,274.74 241.91,275.45 242.37,276.16 242.84,276.86 243.32,277.57 243.80,278.27 244.29,278.97 244.78,279.66 245.28,280.36 245.78,281.05 246.29,281.74 246.81,282.42" fill="rgb(68,170,243)" stroke="rgb(80,184,252)" stroke-width="0.9" stroke-linejoin="round"/>
<polygon points="373.40,227.00 267.42,303.79 268.12,304.36 268.82,304.93 269.53,305.49 270.24,306.06 270.96,306.61 271.68,307.17 272.41,307.72 273.14,308.26 273.87,308.81 274.61,309.34 275.36,309.88 276.11,310.41 276.86,310.93 277.62,311.46 278.38,311.98 279.15,312.49 279.92,313.00 280.69,313.51 281.47,314.01 282.25,314.51 283.04,315.00 283.83,315.49 284.63,315.97 285.42,316.45 286.23,316.93 287.03,317.40 287.85,317.87 288.66,318.34 289.48,318.79 290.30,319.25 291.13,319.70 291.96,320.15 292.79,320.59 293.63,321.03 294.47,321.46 295.31,321.89 296.16,322.31 297.01,322.73 297.87,323.15 298.73,323.56 299.59,323.96 300.45,324.36 301.32,324.76 302.19,325.15 303.07,325.54 303.95,325.92 304.83,326.30 305.71,326.67 306.60,327.04 307.49,327.41 308.38,327.76 309.28,328.12 310.18,328.47 311.08,328.81 311.99,329.15 312.90,329.49 313.81,329.82 314.72,330.14 315.64,330.47 316.56,330.78 317.48,331.09 318.40,331.40 319.33,331.70 320.26,332.00 321.19,332.29 322.12,332.57 323.06,332.85 324.00,333.13 324.94,333.40 325.88,333.67 326.82,333.93 327.77,334.19 328.72,334.44 329.67,334.68 330.63,334.92 331.58,335.16 332.54,335.39 333.50,335.62 334.46,335.84 335.42,336.05 336.39,336.26 337.35,336.47 338.32,336.67 339.29,336.86 340.26,337.05 341.24,337.24 342.21,337.42 343.19,337.59 344.16,337.76 345.14,337.93 346.12,338.08 347.10,338.24 348.09,338.39 349.07,338.53 350.06,338.67 351.04,338.80 352.03,338.93 353.02,339.05 354.01,339.17 355.00,339.28 355.99,339.38 356.98,339.48 357.97,339.58 358.97,339.67 359.96,339.76 360.96,339.84 361.95,339.91 362.95,339.98 363.94,340.04 364.94,340.10 365.94,340.16 366.94,340.21 367.94,340.25 368.94,340.29 369.93,340.32 370.93,340.34 371.93,340.37 372.93,340.38 373.93,340.39 374.93,340.40 375.93,340.40 376.93,340.39 377.93,340.38 378.93,340.37 379.93,340.35 380.93,340.32 381.93,340.29 382.93,340.25 383.93,340.21 384.93,340.16 385.93,340.11 386.92,340.05 387.92,339.99 388.92,339.92 389.91,339.85 390.91,339.77 391.90,339.68 392.89,339.59 393.89,339.50 394.88,339.40 395.87,339.29 396.86,339.18 397.85,339.06 398.84,338.94 399.83,338.82 400.81,338.68 401.80,338.55 402.78,338.41 403.76,338.26 404.75,338.10 405.73,337.95 406.71,337.78 407.68,337.61 408.66,337.44 409.63,337.26 410.61,337.08 411.58,336.89 412.55,336.69 413.52,336.50 414.48,336.29 415.45,336.08 416.41,335.87 417.37,335.65 418.33,335.42 419.29,335.19 420.25,334.96 421.20,334.71 422.15,334.47 423.10,334.22 424.05,333.96 424.99,333.70 425.94,333.44 426.88,333.17 427.82,332.89 428.75,332.61 429.69,332.32 430.62,332.03 431.55,331.74 432.48,331.44 433.40,331.13 434.32,330.82 435.24,330.51" fill="rgb(68,170,243)" stroke="rgb(80,184,252)" stroke-width="0.9" stroke-linejoin="round"/>
<polygon points="384.20,216.20 464.17,317.28 464.98,316.81 465.78,316.33 466.58,315.85 467.37,315.36 468.16,314.87 468.95,314.38 469.73,313.88 470.51,313.38 471.28,312.87 472.05,312.36 472.82,311.84 473.58,311.32 474.33,310.80 475.09,310.27 475.83,309.74 476.58,309.21 477.32,308.67 478.05,308.12 478.78,307.58 479.50,307.02 480.22,306.47 480.94,305.91 481.65,305.35 482.36,304.78 483.06,304.21 483.76,303.64 484.45,303.06 485.14,302.48 485.82,301.90 486.50,301.31 487.17,300.72 487.84,300.12 488.50,299.52 489.16,298.92 489.81,298.31 490.46,297.70 491.10,297.09 491.74,296.48 492.37,295.86 493.00,295.23 493.62,294.61 494.24,293.98 494.85,293.34 495.46,292.71 496.06,292.07 496.66,291.43 497.25,290.78 497.83,290.13 498.41,289.48 498.99,288.83 499.55,288.17 500.12,287.51 500.68,286.84 501.23,286.18 501.78,285.51 502.32,284.83 502.85,284.16 503.38,283.48 503.91,282.80 504.43,282.11 504.94,281.43 505.45,280.74 505.95,280.05 506.44,279.35 506.93,278.65 507.42,277.95 507.90,277.25 508.37,276.55 508.84,275.84 509.30,275.13 509.75,274.42 510.20,273.70 510.64,272.99 511.08,272.27 511.51,271.54 511.94,270.82 512.36,270.09 512.77,269.36 513.18,268.63 513.58,267.90 513.97,267.17 514.36,266.43 514.74,265.69 515.12,264.95 515.49,264.21 515.85,263.46 516.21,262.71 516.56,261.96 516.91,261.21 517.25,260.46 517.58,259.71 517.91,258.95 518.23,258.19 518.54,257.43 518.85,256.67 519.15,255.91 519.45,255.14 519.73,254.38 520.02,253.61 520.29,252.84 520.56,252.07 520.83,251.30 521.08,250.53 521.33,249.75 521.58,248.98 521.81,248.20 522.04,247.42 522.27,246.64 522.49,245.86 522.70,245.08 522.90,244.30 523.10,243.51 523.29,242.73 523.48,241.94 523.66,241.15 523.83,240.37 524.00,239.58 524.16,238.79 524.31,238.00 524.46,237.21 524.60,236.41 524.73,235.62 524.85,234.83 524.97,234.03 525.09,233.24 525.19,232.44 525.29,231.65 525.39,230.85 525.47,230.05 525.55,229.26 525.63,228.46 525.70,227.66 525.76,226.86 525.81,226.06 525.86,225.26 525.90,224.46 525.93,223.66 525.96,222.86 525.98,222.06 525.99,221.26 526.00,220.46 525.00,220.66 524.99,219.86 524.98,219.06 524.96,218.26 524.94,217.46 524.90,216.67 524.86,215.87 524.82,215.07 524.76,214.27 524.71,213.47 524.64,212.67 524.57,211.87 524.49,211.08 524.40,210.28 524.31,209.48 524.21,208.69 524.11,207.89 523.99,207.10 523.87,206.30 523.75,205.51 523.62,204.71 523.48,203.92 523.33,203.13 523.18,202.34 523.02,201.55 522.86,200.76 522.69,199.97 522.51,199.19 522.32,198.40 522.13,197.61 521.94,196.83 521.73,196.05 521.52,195.26 521.30,194.48 521.08,193.70 520.85,192.93 520.61,192.15 520.37,191.37 520.12,190.60 519.87,189.82 519.60,189.05 519.34,188.28 519.06,187.51 518.78,186.74 518.49,185.98 518.20,185.21 517.90,184.45 517.59,183.69 517.28,182.93 516.96,182.17 516.63,181.41 516.30,180.66 515.96,179.91 515.62,179.16 515.27,178.41 514.91,177.66 514.55,176.91 514.18,176.17 513.80,175.43 513.42,174.69 513.03,173.95 512.64,173.22 512.24,172.48 511.83,171.75 511.42,171.02 511.00,170.30 510.58,169.57 510.15,168.85 509.71,168.13 509.27,167.41 508.82,166.70 508.37,165.98 507.91,165.27 507.44,164.57 506.97,163.86 506.49,163.16 506.01,162.46 505.52,161.76 505.03,161.06 504.53,160.37 504.02,159.68 503.51,159.00 502.99,158.31 502.47,157.63 501.94,156.95 501.40,156.27 500.86,155.60 500.32,154.93 499.76,154.26 499.21,153.60 498.65,152.94 498.08,152.28 497.50,151.62 496.92,150.97 496.34,150.32 495.75,149.68 495.16,149.03 494.56,148.39 493.95,147.76 493.34,147.12 492.72,146.49 492.10,145.87 491.47,145.24 490.84,144.62 490.21,144.01 489.56,143.39 488.92,142.78 488.26,142.18 487.61,141.57 486.95,140.97 486.28,140.38 485.61,139.79 484.93,139.20 484.25,138.61 483.56,138.03 482.87,137.45 482.17,136.88 481.47,136.31 480.77,135.74 480.06,135.18 479.34,134.62 478.62,134.06 477.90,133.51 477.17,132.96 476.43,132.42 475.70,131.88 474.95,131.35 474.21,130.81 473.46,130.29 472.70,129.76 471.94,129.24 471.18,128.73 470.41,128.21 469.63,127.71 468.86,127.20 468.08,126.70 467.29,126.21 466.50,125.72 465.71,125.23 464.91,124.75 464.11,124.27 463.30,123.79 462.49,123.32 461.68,122.86 460.86,122.40 460.04,121.94 459.22,121.49 458.39,121.04 457.56,120.60 456.72,120.16 455.88,119.72 455.04,119.29 454.19,118.87 453.34,118.44 452.49,118.03 451.63,117.61 450.77,117.21 449.91,116.80 449.04,116.41 448.17,116.01 447.30,115.62 446.42,115.24 445.54,114.86 444.66,114.48 443.77,114.11 442.88,113.75 441.99,113.38 441.09,113.03 440.20,112.68 439.30,112.33 438.39,111.99 437.48,111.65 436.57,111.32 435.66,110.99 434.75,110.67 433.83,110.35 432.91,110.04 431.99,109.73 431.06,109.43 430.13,109.13 429.20,108.83 428.27,108.55 427.33,108.26 426.40,107.98 425.46,107.71 424.52,107.44 423.57,107.18 422.62,106.92 421.68,106.67 420.73,106.42 419.77,106.18 418.82,105.94 417.86,105.71 416.90,105.48 415.94,105.25 414.98,105.04 414.02,104.82 413.05,104.62 412.08,104.41 411.11,104.22 410.14,104.03 409.17,103.84 408.20,103.66 407.22,103.48 406.24,103.31 405.27,103.14 404.29,102.98" fill="rgb(122,20,20)" stroke="rgb(138,34,34)" stroke-width="0.9" stroke-linejoin="round"/>

</g>
<text x="306.00" y="186.10" font-size="21.30" textLength="31.50" lengthAdjust="spacingAndGlyphs" fill="#ffffff" fill-opacity="0.75">30%</text>
<text x="434.00" y="215.20" font-size="20.80" textLength="31.00" lengthAdjust="spacingAndGlyphs" fill="#ffffff" fill-opacity="0.75">43%</text>
<text x="296.50" y="251.40" font-size="20.50" textLength="21.50" lengthAdjust="spacingAndGlyphs" fill="#ffffff" fill-opacity="0.75">5%</text>
<text x="345.50" y="286.00" font-size="20.50" textLength="32.00" lengthAdjust="spacingAndGlyphs" fill="#ffffff" fill-opacity="0.75">23%</text>
<line x1="89.3" y1="120.9" x2="248.0" y2="120.9" stroke="#303030" stroke-width="1.5"/>
<line x1="248.0" y1="120.9" x2="259.5" y2="131.8" stroke="#202020" stroke-width="1.3"/>
<polygon points="266.7,138.7 256.4,135.1 262.6,128.5" fill="#000"/>
<line x1="547.0" y1="191.3" x2="723.8" y2="191.3" stroke="#303030" stroke-width="1.5"/>
<line x1="547.0" y1="191.3" x2="531.1" y2="193.9" stroke="#202020" stroke-width="1.3"/>
<polygon points="521.2,195.5 530.3,189.5 531.8,198.3" fill="#000"/>
<line x1="114.0" y1="277.8" x2="214.5" y2="277.8" stroke="#303030" stroke-width="1.5"/>
<line x1="214.5" y1="277.8" x2="229.0" y2="271.6" stroke="#202020" stroke-width="1.3"/>
<polygon points="238.2,267.7 230.8,275.8 227.2,267.5" fill="#000"/>
<line x1="119.8" y1="362.4" x2="340.2" y2="362.4" stroke="#303030" stroke-width="1.5"/>
<line x1="340.2" y1="362.4" x2="342.8" y2="347.0" stroke="#202020" stroke-width="1.3"/>
<polygon points="344.5,337.1 347.3,347.7 338.4,346.2" fill="#000"/>
<text x="94.50" y="116.80" font-size="18.70" textLength="48.50" lengthAdjust="spacingAndGlyphs" fill="#262626" fill-opacity="0.8">Divers</text>
<text x="145.50" y="116.80" font-size="18.70" textLength="33.50" lengthAdjust="spacingAndGlyphs" fill="#262626" fill-opacity="0.8">Non</text>
<text x="181.00" y="116.80" font-size="18.70" textLength="62.00" lengthAdjust="spacingAndGlyphs" fill="#262626" fill-opacity="0.8">Détaillé</text>
<text x="551.50" y="183.50" font-size="19.30" textLength="65.50" lengthAdjust="spacingAndGlyphs" fill="#262626" fill-opacity="0.8">Charges</text>
<text x="621.50" y="183.50" font-size="19.30" textLength="21.00" lengthAdjust="spacingAndGlyphs" fill="#262626" fill-opacity="0.8">de</text>
<text x="646.50" y="183.50" font-size="19.30" textLength="72.00" lengthAdjust="spacingAndGlyphs" fill="#262626" fill-opacity="0.8">Personnel</text>
<text x="120.00" y="271.20" font-size="19.50" textLength="90.50" lengthAdjust="spacingAndGlyphs" fill="#262626" fill-opacity="0.8">Contingents</text>
<text x="126.50" y="355.20" font-size="20.00" textLength="51.00" lengthAdjust="spacingAndGlyphs" fill="#262626" fill-opacity="0.8">Achats</text>
<text x="183.00" y="355.20" font-size="20.00" textLength="14.00" lengthAdjust="spacingAndGlyphs" fill="#262626" fill-opacity="0.8">et</text>
<text x="201.50" y="355.20" font-size="20.00" textLength="62.50" lengthAdjust="spacingAndGlyphs" fill="#262626" fill-opacity="0.8">Charges</text>
<text x="271.00" y="355.20" font-size="20.00" textLength="64.50" lengthAdjust="spacingAndGlyphs" fill="#262626" fill-opacity="0.8">Externes</text>
<text x="355.00" y="399.20" font-size="16.30" textLength="70.00" lengthAdjust="spacingAndGlyphs" fill="#4646ee" fill-opacity="0.85">MOUFLERS</text>

</svg>
</body></html>
